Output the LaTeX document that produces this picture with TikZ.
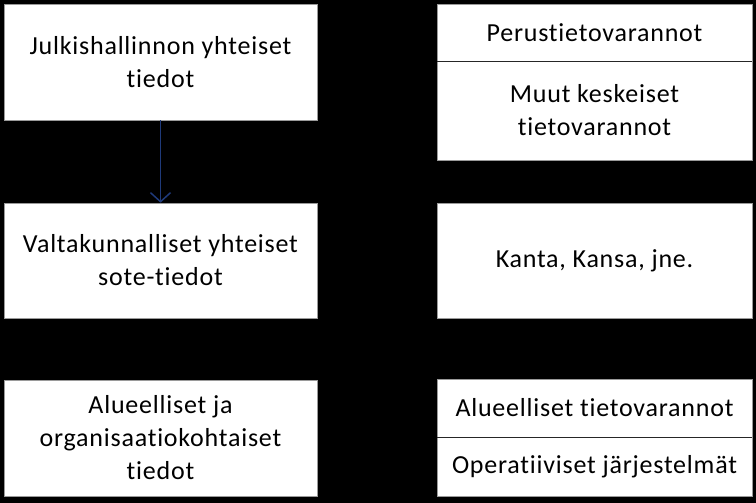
\documentclass[tikz,border=0pt]{standalone}
\usepackage{fontspec}
\setmainfont{Carlito}[Ligatures=NoCommon, LetterSpace=3]
\usetikzlibrary{arrows.meta}
\definecolor{arrowblue}{HTML}{1F3A7A}
\definecolor{edgegray}{HTML}{9A9A9A}
\tikzset{
  box/.style={draw=edgegray, line width=0.6pt, fill=white, inner sep=0pt,
    align=center, font=\fontsize{26}{33}\selectfont, text=black},
  sep/.style={draw=black!85, line width=1.4pt},
  arrowc/.style={draw=arrowblue, line width=1.5pt,
    -{Straight Barb[length=9pt,width=20pt,line width=1.5pt]}}
}
\begin{document}
\begin{tikzpicture}[x=1pt,y=-1pt]
\fill[black] (0,0) rectangle (756,503);
\useasboundingbox (0,0) rectangle (756,503);
% left column
\node[box, minimum width=313pt, minimum height=116pt] (j) at (160.5,62) {Julkishallinnon yhteiset\\tiedot};
\node[box, minimum width=313pt, minimum height=115pt] (v) at (160.5,260.5) {Valtakunnalliset yhteiset\\sote-tiedot};
\node[box, minimum width=313pt, minimum height=116pt] (a) at (160.5,438) {Alueelliset ja\\organisaatiokohtaiset\\tiedot};
% right column
\node[box, minimum width=315pt, minimum height=57pt] (p) at (594.5,32.5) {Perustietovarannot};
\node[box, minimum width=315pt, minimum height=99pt] (m) at (594.5,110.5) {Muut keskeiset\\tietovarannot};
\node[box, minimum width=315pt, minimum height=115pt] (k) at (594.5,260.5) {Kanta, Kansa, jne.};
\node[box, minimum width=315pt, minimum height=58pt] (al) at (594.5,408) {Alueelliset tietovarannot};
\node[box, minimum width=315pt, minimum height=59pt] (o) at (594.5,466.5) {Operatiiviset järjestelmät};
% separators
\draw[sep] (p.south west) -- (p.south east);
\draw[sep] (al.south west) -- (al.south east);
% connector
\draw[arrowc] (j.south) -- (v.north);
\end{tikzpicture}
\end{document}
